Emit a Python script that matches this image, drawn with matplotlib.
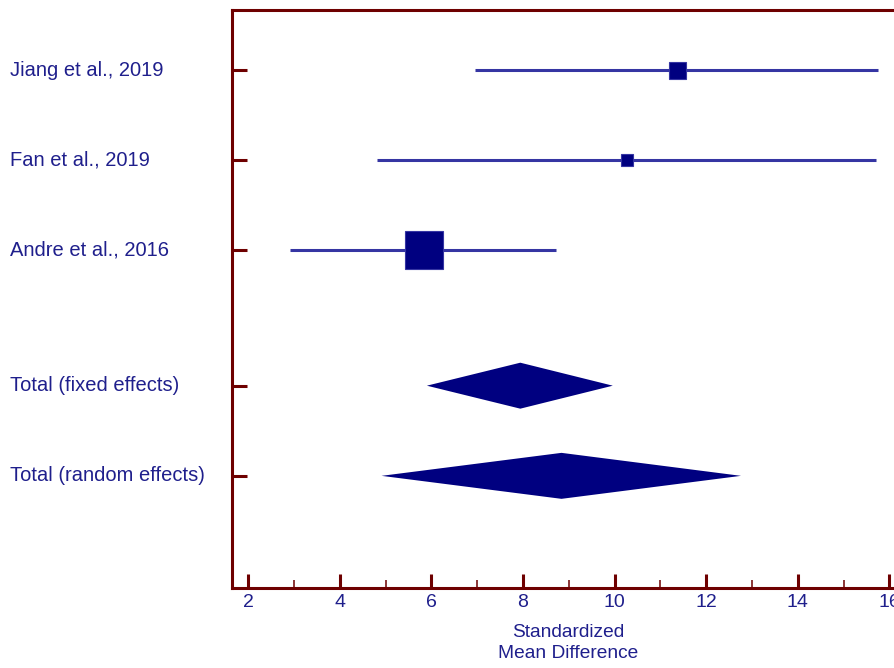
import numpy as np
import matplotlib
matplotlib.use("Agg")
from matplotlib import pyplot as plt
from matplotlib.ticker import MultipleLocator
import matplotlib.transforms as mtransforms

plt.rcParams['font.family'] = ['Liberation Sans', 'DejaVu Sans']

# 研究数据
studies = ['Jiang et al., 2019', 'Fan et al., 2019', 'Andre et al., 2016']
smd = [11.36, 10.27, 5.83]
ci_lo = [6.95, 4.81, 2.91]
ci_hi = [15.76, 15.70, 8.72]
weights = [16.0, 8.0, 76.0]  # 权重 (%)

# 合并效应
totals = ['Total (fixed effects)', 'Total (random effects)']
tot_est = [7.94, 8.84]
tot_lo = [5.90, 4.91]
tot_hi = [9.96, 12.76]

xticks = [2, 4, 6, 8, 10, 12, 14, 16]

spine_col = '#6e0000'
line_col = '#3535a3'
box_col = '#000080'
text_col = '#1f1f8c'

fig = plt.figure(figsize=(8.95, 6.68), dpi=100)
ax = fig.add_axes([232 / 895, 80 / 668, 672 / 895, 578 / 668])

ys = [0, 1, 2]
ys_tot = [3.5, 4.5]

for y, m, lo, hi, w in zip(ys, smd, ci_lo, ci_hi, weights):
    ax.plot([lo, hi], [y, y], color=line_col, lw=2.2, solid_capstyle='butt', zorder=2)
    ax.plot(m, y, marker='s', ms=np.sqrt(w) * 3.06, color=box_col,
            mec=line_col, mew=0.8, zorder=3)

h = 0.255
for y, m, lo, hi in zip(ys_tot, tot_est, tot_lo, tot_hi):
    ax.fill([lo, m, hi, m], [y, y - h, y, y + h], color=box_col, lw=0, zorder=3)

ax.set_xlim(1.644, 16.32)
ax.set_ylim(5.744, -0.667)

for s in ['left', 'top', 'bottom']:
    ax.spines[s].set_color(spine_col)
    ax.spines[s].set_linewidth(2.2)
ax.spines['right'].set_visible(False)

ax.set_xticks(xticks)
ax.xaxis.set_minor_locator(MultipleLocator(1))
ax.tick_params(axis='x', which='major', direction='in', length=10, width=2.2,
               color=spine_col, labelcolor=text_col, labelsize=14, pad=4)
ax.tick_params(axis='x', which='minor', direction='in', length=6, width=1.1,
               color=spine_col)
ax.set_yticks(ys + ys_tot)
ax.set_yticklabels([])
ax.tick_params(axis='y', direction='in', length=10.8, width=2.2, color=spine_col)

trans = mtransforms.blended_transform_factory(fig.transFigure, ax.transData)
for y, name in zip(ys + ys_tot, studies + totals):
    ax.text(10 / 895, y, name, transform=trans, ha='left', va='center',
            fontsize=14.5, color=text_col)

ax.set_xlabel('Standardized\nMean Difference', color=text_col, fontsize=13.8,
              labelpad=10, linespacing=1.3)

fig.savefig('out.png', dpi=100)
